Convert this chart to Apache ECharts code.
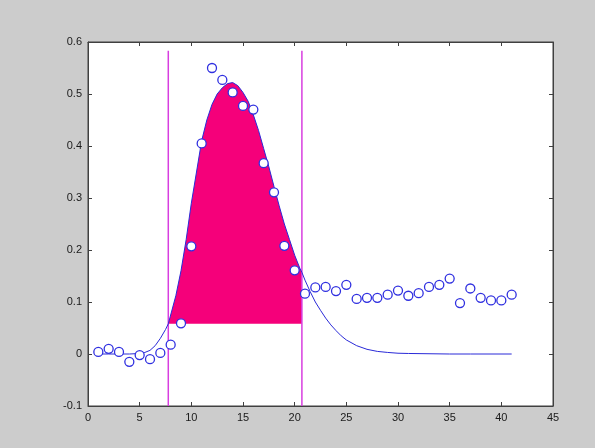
<!DOCTYPE html>
<html>
<head>
<meta charset="utf-8">
<script src="https://cdn.jsdelivr.net/npm/echarts@6/dist/echarts.min.js"></script>
<style>
html,body{margin:0;padding:0;background:#cccccc;}
#chart{width:595px;height:448px;}
</style>
</head>
<body>
<div id="chart"></div>
<script>
// Measured data points (hollow circles)
const pointX = [1,2,3,4,5,6,7,8,9,10,11,12,13,14,15,16,17,18,19,20,21,22,23,24,25,26,27,28,29,30,31,32,33,34,35,36,37,38,39,40,41];
const pointY = [0.004,0.01,0.004,-0.015,-0.002,-0.01,0.002,0.018,0.059,0.207,0.405,0.55,0.527,0.503,0.477,0.47,0.367,0.311,0.208,0.161,0.116,0.128,0.129,0.121,0.133,0.106,0.108,0.108,0.114,0.122,0.112,0.117,0.129,0.133,0.145,0.098,0.126,0.108,0.103,0.103,0.114];

// Fitted curve
const curveX = [1,2,3,4,5,5.5,6,6.5,7,7.5,7.77,8,8.5,9,9.5,10,10.5,11,11.5,12,12.5,13,13.5,14,14.5,15,15.5,16,16.5,17,17.5,18,18.5,19,19.5,20,20.5,20.7,21,21.5,22,22.5,23,23.5,24,24.5,25,26,27,28,29,30,31,33,35,37,39,41];
const curveY = [0,0,0,0,0.001,0.003,0.007,0.016,0.03,0.047,0.058,0.075,0.112,0.16,0.22,0.29,0.35,0.41,0.45,0.48,0.5,0.512,0.52,0.522,0.516,0.503,0.486,0.46,0.43,0.395,0.36,0.322,0.285,0.25,0.22,0.19,0.165,0.157,0.142,0.12,0.1,0.084,0.069,0.056,0.045,0.035,0.027,0.016,0.009,0.005,0.003,0.0015,0.001,0.0005,0,0,0,0];

// Integration bounds and fill baseline
const boundX = [7.77, 20.7];
const boundLineY = [-0.1, 0.583];
const fillBase = 0.058;

// Axis ticks
const xTicks = [0,5,10,15,20,25,30,35,40,45];
const yTicks = [-0.1,0,0.1,0.2,0.3,0.4,0.5,0.6];

const curveData = curveX.map((x, i) => [x, curveY[i]]);
const pointData = pointX.map((x, i) => [x, pointY[i]]);
const fillCurve = curveData.filter(p => p[0] >= boundX[0] && p[0] <= boundX[1]);

const chart = echarts.init(document.getElementById('chart'));
const axisLine = { show: true, onZero: false, lineStyle: { color: '#404040', width: 1 } };
const tick = { show: true, inside: true, length: 4, lineStyle: { color: '#404040' } };
const lbl = { color: '#1a1a1a', fontSize: 11, fontFamily: 'Liberation Sans, Arial, sans-serif' };

chart.setOption({
  backgroundColor: '#cccccc',
  animation: false,
  grid: { left: 88, right: 42, top: 42, bottom: 42, show: true, backgroundColor: '#ffffff', borderColor: '#404040', borderWidth: 1 },
  xAxis: [
    { type: 'value', min: xTicks[0], max: xTicks[xTicks.length-1], interval: 5, position: 'bottom',
      axisLine, axisTick: tick, splitLine: { show: false }, axisLabel: Object.assign({ margin: 6 }, lbl) },
    { type: 'value', min: xTicks[0], max: xTicks[xTicks.length-1], interval: 5, position: 'top',
      axisLine, axisTick: tick, splitLine: { show: false }, axisLabel: { show: false } }
  ],
  yAxis: [
    { type: 'value', min: yTicks[0], max: yTicks[yTicks.length-1], interval: 0.1, position: 'left',
      axisLine, axisTick: tick, splitLine: { show: false },
      axisLabel: Object.assign({ margin: 6, formatter: v => String(Math.round(v * 10) / 10) }, lbl) },
    { type: 'value', min: yTicks[0], max: yTicks[yTicks.length-1], interval: 0.1, position: 'right',
      axisLine, axisTick: tick, splitLine: { show: false }, axisLabel: { show: false } }
  ],
  series: [
    {
      type: 'custom', xAxisIndex: 0, yAxisIndex: 0, z: 1,
      data: [[boundX[0], fillBase]],
      renderItem: function (params, api) {
        const pts = fillCurve.map(p => api.coord(p));
        pts.push(api.coord([boundX[1], fillBase]));
        pts.push(api.coord([boundX[0], fillBase]));
        return { type: 'polygon', shape: { points: pts }, style: { fill: '#f5007a', stroke: null } };
      },
      silent: true
    },
    {
      type: 'line', xAxisIndex: 0, yAxisIndex: 0, z: 3,
      data: curveData, showSymbol: false, symbol: 'none',
      lineStyle: { color: '#2a2ad8', width: 1 }
    },
    {
      type: 'line', z: 2, data: [[boundX[0], boundLineY[0]], [boundX[0], boundLineY[1]]],
      symbol: 'none', lineStyle: { color: '#d83ee0', width: 1.5 }
    },
    {
      type: 'line', z: 2, data: [[boundX[1], boundLineY[0]], [boundX[1], boundLineY[1]]],
      symbol: 'none', lineStyle: { color: '#d83ee0', width: 1.5 }
    },
    {
      type: 'scatter', z: 4, data: pointData, symbol: 'circle', symbolSize: 9,
      itemStyle: { color: '#ffffff', borderColor: '#3030e0', borderWidth: 1.3, opacity: 1 }
    }
  ]
});
</script>
</body>
</html>
